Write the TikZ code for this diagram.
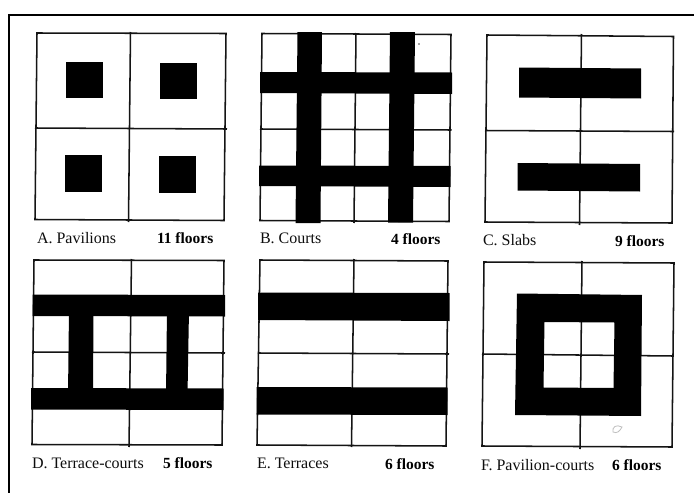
\documentclass[tikz,border=0pt]{standalone}
\usepackage{fontspec}
\setmainfont{Liberation Serif}
\tikzset{
  plan/.style={draw=black!92,line width=1.15pt,line join=miter},
  block/.style={fill=black,draw=none},
  plabel/.style={anchor=base west,inner sep=0pt,outer sep=0pt,font=\fontsize{12}{14}\selectfont,text=black!95},
  floors/.style={anchor=base west,inner sep=0pt,outer sep=0pt,font=\fontsize{11.6}{14}\selectfont\bfseries,text=black},
  frameline/.style={draw=black,line width=1.6pt}
}
\begin{document}
\begin{tikzpicture}[x=0.75pt,y=-0.75pt]
\useasboundingbox (0,0) rectangle (694,493);
\fill[white] (0,0) rectangle (694,493);
% outer frame: top and left only
\draw[frameline] (694,15) -- (9,15) -- (9,493);

% A
\draw[plan] (37,33) -- (226,33.5) -- (224,220.5) -- (35,219.5) -- cycle;
\draw[plan] (130.5,32) -- (128.5,222);
\draw[plan] (35,128) -- (227,129);
\fill[block] (65.5,62) rectangle (103,98);
\fill[block] (160,62.5) rectangle (197,99);
\fill[block] (64.5,155) rectangle (102,192);
\fill[block] (159,155.5) rectangle (196,192.5);
\node[plabel] (la) at (37,243) {A. Pavilions};
\node[floors] (fa) at (157,243) {11 floors};

% B
\draw[plan] (262,33.5) -- (451,34.5) -- (449,221.5) -- (260,220.5) -- cycle;
\draw[plan] (356,33) -- (354,223);
\draw[plan] (260,129) -- (451.5,130);
\fill[block] (297.5,32) -- (322,32) -- (320.5,223) -- (295.5,223) -- cycle;
\fill[block] (390,32) -- (415,32) -- (413,222.5) -- (388,222.5) -- cycle;
\fill[block] (260,72) -- (452,72.5) -- (452,94) -- (260,93) -- cycle;
\fill[block] (259,165.5) -- (450.5,166) -- (450.5,187) -- (259,186) -- cycle;
\node[plabel] (lb) at (260,243.5) {B. Courts};
\node[floors] (fb) at (391,244) {4 floors};

% C
\draw[plan] (487,35) -- (673.5,36.5) -- (672,223) -- (485,222) -- cycle;
\draw[plan] (581.5,34) -- (579.5,225);
\draw[plan] (485,130.5) -- (674,131.5);
\fill[block] (519,67.5) -- (641,68.5) -- (641,98.5) -- (519,97.5) -- cycle;
\fill[block] (517.5,163) -- (640,164) -- (640,191.5) -- (517.5,190.5) -- cycle;
\node[plabel] (lc) at (483,245) {C. Slabs};
\node[floors] (fc) at (615,246) {9 floors};

% D
\draw[plan] (34,260) -- (224,260.5) -- (222,445) -- (32,444.5) -- cycle;
\draw[plan] (131.5,259) -- (129,447);
\draw[plan] (32,352) -- (225,353);
\fill[block] (32.5,294.5) -- (225,295) -- (225,316.5) -- (32.5,316) -- cycle;
\fill[block] (31,388) -- (223.5,388.5) -- (223.5,410) -- (31,409.5) -- cycle;
\fill[block] (69,310) -- (93.5,310) -- (93,395) -- (68,395) -- cycle;
\fill[block] (167,310) -- (189,310) -- (187.5,395) -- (166,395) -- cycle;
\node[plabel] (ld) at (32,468) {D. Terrace-courts};
\node[floors] (fd) at (163,468) {5 floors};

% E
\draw[plan] (260,260) -- (448,261) -- (446,446) -- (257,445) -- cycle;
\draw[plan] (354,259) -- (351.5,447);
\draw[plan] (258,353) -- (449,354);
\fill[block] (258,292.5) -- (449.5,293) -- (449.5,321) -- (258,320) -- cycle;
\fill[block] (256.5,387) -- (447.5,387.5) -- (447.5,415) -- (256.5,414.5) -- cycle;
\node[plabel] (le) at (257,468) {E. Terraces};
\node[floors] (fe) at (385,469) {6 floors};

% F
\draw[plan] (484,262) -- (674,263) -- (672,447) -- (482,446) -- cycle;
\draw[plan] (582,261) -- (580,449);
\draw[plan] (482,354) -- (673,356);
\fill[block,even odd rule]
  (517,293.5) -- (642,295) -- (641,416) -- (515,415) -- cycle
  (544.5,322) -- (614.5,322.5) -- (613.5,388) -- (543.5,387.5) -- cycle;
\node[plabel] (lf) at (481,470) {F. Pavilion-courts};
\node[floors] (ff) at (612,470) {6 floors};

% small print specks
\fill[black!70] (419,44) circle (0.9);
\draw[black!25,line width=0.6pt] (613,432) .. controls (612,427) and (616,424) .. (622,427) .. controls (620,431) and (617,434) .. (613,432) -- cycle;
\end{tikzpicture}
\end{document}
